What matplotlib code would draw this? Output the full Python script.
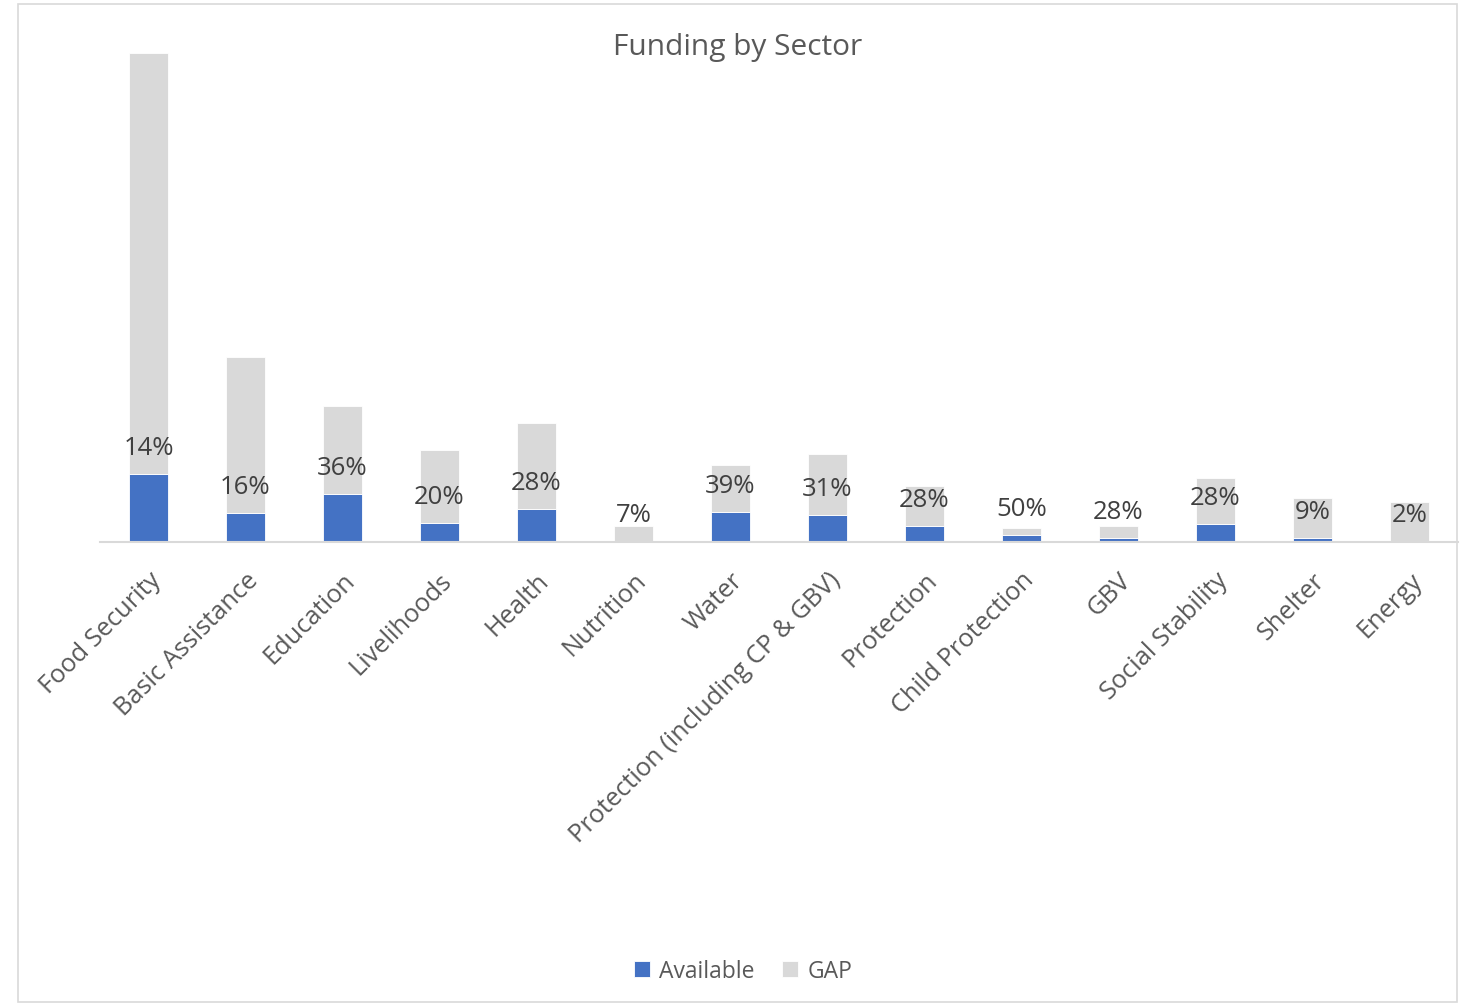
import matplotlib
matplotlib.use("Agg")
import matplotlib.pyplot as plt
from matplotlib.patches import Rectangle
import numpy as np

plt.rcParams['font.family'] = ['Open Sans', 'DejaVu Sans']

categories = ["Food Security", "Basic Assistance", "Education", "Livelihoods", "Health",
              "Nutrition", "Water", "Protection (including CP & GBV)", "Protection",
              "Child Protection", "GBV", "Social Stability", "Shelter", "Energy"]
available = [68, 29, 48, 19, 33, 1.1, 30, 27, 16, 7, 4.5, 18, 4, 0.8]
gap = [421, 156, 88, 73, 86, 14.9, 47, 61, 40, 7, 11.5, 46, 40, 39.2]
pct_labels = ["14%", "16%", "36%", "20%", "28%", "7%", "39%", "31%", "28%",
              "50%", "28%", "28%", "9%", "2%"]

blue = "#4472C4"
grey = "#D9D9D9"
txt = "#595959"

fig = plt.figure(figsize=(14.6, 10.04), dpi=100)
fig.patches.append(Rectangle((18/1460, 1-1003/1004), (1457-18)/1460, (1003-5)/1004,
                             transform=fig.transFigure, fill=False,
                             edgecolor="#D9D9D9", linewidth=1.2))
ax = fig.add_axes([100/1460, 1-543/1004, (1458-100)/1460, (543-40)/1004])

x = np.arange(len(categories))
w = 0.4
ax.bar(x, available, w, color=blue, edgecolor="white", linewidth=0.6, label="Available", zorder=2)
ax.bar(x, gap, w, bottom=available, color=grey, edgecolor="white", linewidth=0.6, label="GAP", zorder=2)

for xi, a, lab in zip(x, available, pct_labels):
    ax.annotate(lab, (xi, a), xytext=(0, 19), textcoords="offset points",
                ha="center", va="center", fontsize=18.5, color="#404040", zorder=3)

ax.set_xlim(-0.5, len(categories) - 0.5)
ax.set_ylim(0, 503)
ax.set_yticks([])
for s in ["top", "right", "left"]:
    ax.spines[s].set_visible(False)
ax.spines["bottom"].set_color("#D9D9D9")
ax.spines["bottom"].set_linewidth(1.5)
ax.set_xticks(x)
ax.set_xticklabels(categories, rotation=45, ha="right", rotation_mode="anchor",
                   fontsize=18.3, color=txt)
ax.tick_params(axis="x", length=0, pad=18)

fig.text(738/1460, 1-47/1004, "Funding by Sector", ha="center", va="center",
         fontsize=21.5, color=txt)

fig.legend(loc="center", bbox_to_anchor=(743/1460, 1-972/1004), ncol=2, frameon=False,
           fontsize=16.5, labelcolor=txt, handlelength=0.7, handleheight=0.7,
           handletextpad=0.4, columnspacing=1.2)

fig.savefig("out.png", dpi=100)
